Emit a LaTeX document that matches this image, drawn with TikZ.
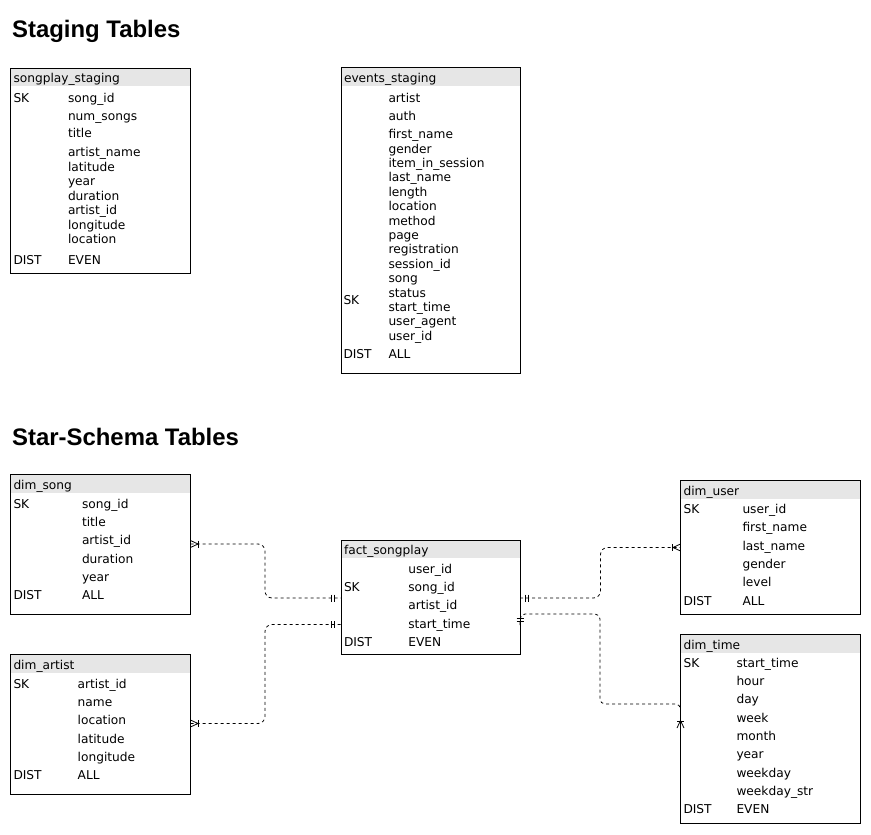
\documentclass[tikz,border=0pt]{standalone}
\usepackage{fontspec}
\setmainfont{DejaVu Sans}
\newfontfamily\headfont{Liberation Sans}
\usetikzlibrary{calc}
\definecolor{hdrgray}{HTML}{E6E6E6}
\newcounter{fldc}
\tikzset{
  fldtext/.style={anchor=base west, inner sep=0pt, outer sep=0pt, font=\fontsize{12.2}{14}\selectfont},
  heading/.style={anchor=base west, inner sep=0pt, font=\headfont\bfseries\fontsize{23.9}{28}\selectfont},
  tblbox/.style={draw=black, line width=1pt, inner sep=0pt, outer sep=0pt, anchor=north west},
  conn/.style={draw=black, line width=0.8pt, dash pattern=on 3pt off 3pt, rounded corners=7},
  endmark/.style={draw=black, line width=0.8pt}
}
\newcommand\fld[3]{\stepcounter{fldc}\node[fldtext] (fld\arabic{fldc}) at (#1,#2+0.5) {#3};}
% name, x, y, w, h, title
\newcommand\dbtable[6]{%
  \fill[hdrgray] (#2,#3) rectangle (#2+#4,#3+18);
  \node[tblbox, minimum width=#4, minimum height=#5] (#1) at (#2,#3) {};
  \node[fldtext] (#1-title) at (#2+3,#3+14.6) {#6};
}
\begin{document}
\begin{tikzpicture}[x=1pt,y=-1pt]
\useasboundingbox (0,0) rectangle (871,835);

\node[heading] (h1) at (12,37.5) {Staging Tables};
\node[heading] (h2) at (12,445.5) {Star-Schema Tables};

% songplay_staging
\dbtable{sps}{10.5}{68}{180}{205.5}{songplay\_staging}
\fld{13.5}{101.7}{SK}
\fld{68}{101.7}{song\_id}
\fld{68}{120}{num\_songs}
\fld{68}{137.3}{title}
\fld{68}{156}{artist\_name}
\fld{68}{170.5}{latitude}
\fld{68}{185}{year}
\fld{68}{199.5}{duration}
\fld{68}{214}{artist\_id}
\fld{68}{228.5}{longitude}
\fld{68}{243}{location}
\fld{13.5}{264}{DIST}
\fld{68}{264}{EVEN}

% events_staging
\dbtable{evs}{341}{67.5}{179}{306}{events\_staging}
\fld{388.5}{101.7}{artist}
\fld{388.5}{120}{auth}
\fld{388.5}{138}{first\_name}
\fld{388.5}{152.5}{gender}
\fld{388.5}{167}{item\_in\_session}
\fld{388.5}{181.4}{last\_name}
\fld{388.5}{195.8}{length}
\fld{388.5}{210.2}{location}
\fld{388.5}{224.6}{method}
\fld{388.5}{239}{page}
\fld{388.5}{253.4}{registration}
\fld{388.5}{267.8}{session\_id}
\fld{388.5}{282.2}{song}
\fld{388.5}{296.6}{status}
\fld{388.5}{311}{start\_time}
\fld{388.5}{325.4}{user\_agent}
\fld{388.5}{339.8}{user\_id}
\fld{343.5}{303.5}{SK}
\fld{343.5}{358}{DIST}
\fld{388.5}{358}{ALL}

% dim_song
\dbtable{dimsong}{10.5}{474.5}{180}{139.5}{dim\_song}
\fld{13.5}{507.7}{SK}
\fld{82}{507.7}{song\_id}
\fld{82}{526}{title}
\fld{82}{544.3}{artist\_id}
\fld{82}{562.6}{duration}
\fld{82}{580.9}{year}
\fld{13.5}{599.2}{DIST}
\fld{82}{599.2}{ALL}

% dim_artist
\dbtable{dimartist}{10.5}{654.5}{180}{140}{dim\_artist}
\fld{13.5}{687.7}{SK}
\fld{77.7}{687.7}{artist\_id}
\fld{77.7}{706}{name}
\fld{77.7}{724.3}{location}
\fld{77.7}{742.6}{latitude}
\fld{77.7}{760.9}{longitude}
\fld{13.5}{779.2}{DIST}
\fld{77.7}{779.2}{ALL}

% fact_songplay
\dbtable{fact}{341}{540}{179}{114}{fact\_songplay}
\fld{408.3}{572.7}{user\_id}
\fld{344}{591}{SK}
\fld{408.3}{591}{song\_id}
\fld{408.3}{609.3}{artist\_id}
\fld{408.3}{627.6}{start\_time}
\fld{344}{645.9}{DIST}
\fld{408.3}{645.9}{EVEN}

% dim_user
\dbtable{dimuser}{680.5}{480.5}{179.5}{133.5}{dim\_user}
\fld{683.5}{512.7}{SK}
\fld{742.5}{512.7}{user\_id}
\fld{742.5}{531.1}{first\_name}
\fld{742.5}{549.5}{last\_name}
\fld{742.5}{567.9}{gender}
\fld{742.5}{586.3}{level}
\fld{683.5}{604.7}{DIST}
\fld{742.5}{604.7}{ALL}

% dim_time
\dbtable{dimtime}{680.5}{634.5}{179.5}{188.5}{dim\_time}
\fld{683.5}{666.7}{SK}
\fld{736.5}{666.7}{start\_time}
\fld{736.5}{685}{hour}
\fld{736.5}{703.3}{day}
\fld{736.5}{721.6}{week}
\fld{736.5}{739.9}{month}
\fld{736.5}{758.2}{year}
\fld{736.5}{776.5}{weekday}
\fld{736.5}{794.8}{weekday\_str}
\fld{683.5}{813.1}{DIST}
\fld{736.5}{813.1}{EVEN}

% connector end points
\coordinate (s1) at ($(dimsong.north east)+(0,69.5)$);
\coordinate (e1) at ($(fact.north west)+(0,58)$);
\coordinate (s2) at ($(dimartist.north east)+(0,69)$);
\coordinate (e2) at ($(fact.north west)+(0,84.5)$);
\coordinate (s3) at ($(fact.north east)+(0,58)$);
\coordinate (e3) at ($(dimuser.north west)+(0,67)$);
\coordinate (s4) at ($(fact.north east)+(0,85)$);
\coordinate (c4) at ($(dimtime.north west)+(0,69.5)$);
\coordinate (e4) at ($(dimtime.north west)+(0,93.5)$);

% connectors
\draw[conn] (s1) -- ++(74.5,0) |- (e1);
\draw[conn] (s2) -- ++(74.5,0) |- (e2);
\draw[conn] (s3) -- ++(80.5,0) |- (e3);
\draw[conn, rounded corners=5] (s4) |- ($(s4)+(80,-11)$) |- (c4) -- (e4);

% end marks: one or many (crow's foot + bar)
\draw[endmark] ($(s1)+(0,-3.5)$) -- ($(s1)+(7.5,0)$) -- ($(s1)+(0,3.5)$);
\draw[endmark] ($(s1)+(8,-3.5)$) -- ($(s1)+(8,3.5)$);
\draw[endmark] ($(s2)+(0,-3.5)$) -- ($(s2)+(7.5,0)$) -- ($(s2)+(0,3.5)$);
\draw[endmark] ($(s2)+(8,-3.5)$) -- ($(s2)+(8,3.5)$);
\draw[endmark] ($(e3)+(0,-3.5)$) -- ($(e3)+(-7.5,0)$) -- ($(e3)+(0,3.5)$);
\draw[endmark] ($(e3)+(-8,-3.5)$) -- ($(e3)+(-8,3.5)$);
\draw[endmark] ($(e4)+(-3.5,0)$) -- ($(e4)+(0,-7.5)$) -- ($(e4)+(3.5,0)$);
\draw[endmark] ($(e4)+(-3.5,-6.5)$) -- ($(e4)+(3.5,-6.5)$);

% end marks: mandatory one (two bars)
\draw[endmark] ($(e1)+(-9.5,-3.5)$) -- ($(e1)+(-9.5,3.5)$);
\draw[endmark] ($(e1)+(-6.3,-3.5)$) -- ($(e1)+(-6.3,3.5)$);
\draw[endmark] ($(e2)+(-9.5,-3.5)$) -- ($(e2)+(-9.5,3.5)$);
\draw[endmark] ($(e2)+(-6.3,-3.5)$) -- ($(e2)+(-6.3,3.5)$);
\draw[endmark] ($(s3)+(5,-3.5)$) -- ($(s3)+(5,3.5)$);
\draw[endmark] ($(s3)+(8.2,-3.5)$) -- ($(s3)+(8.2,3.5)$);
\draw[endmark] ($(s4)+(-3.5,-7)$) -- ($(s4)+(3.5,-7)$);
\draw[endmark] ($(s4)+(-3.5,-3.8)$) -- ($(s4)+(3.5,-3.8)$);
\end{tikzpicture}
\end{document}
